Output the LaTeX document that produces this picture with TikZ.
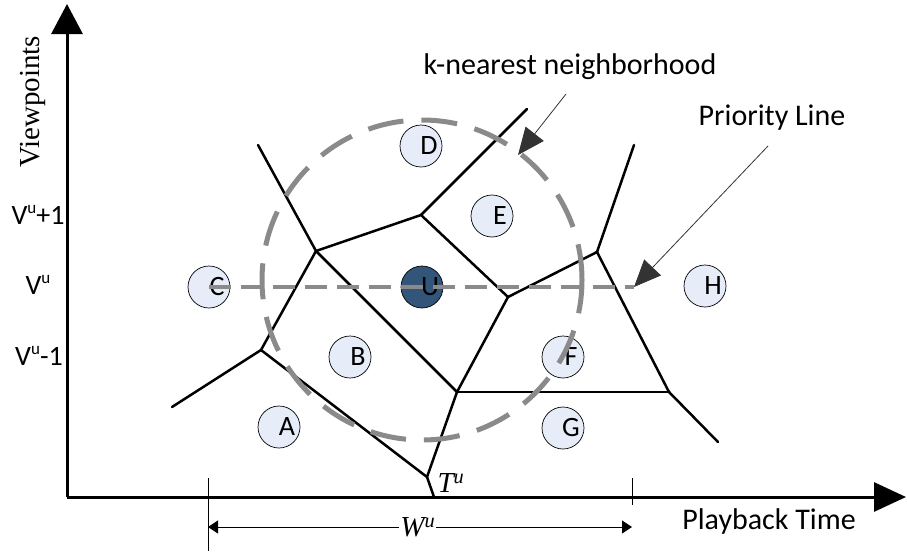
\documentclass[tikz,border=0pt]{standalone}
\usepackage{fontspec}
\setmainfont{Carlito}
\newfontfamily\timesfont{Liberation Serif}
\usetikzlibrary{arrows.meta, positioning}
\definecolor{siteblue}{HTML}{E6EDF8}
\definecolor{udark}{HTML}{34557A}
\definecolor{dashgray}{HTML}{8A8A8A}
\definecolor{arrowgray}{HTML}{333333}
\newcommand{\supu}{\raisebox{0.42em}{\fontsize{17}{17}\selectfont u}}

\begin{document}
\begin{tikzpicture}[x=1pt,y=-1pt,
 site/.style={circle,draw,line width=0.7pt,fill=siteblue,minimum size=42pt,inner sep=0pt,
   font=\fontsize{28}{28}\selectfont},
 cell/.style={line width=2.5pt,line cap=round},
 axis/.style={line width=3pt},
 knn/.style={draw=dashgray,line width=5pt,dash pattern=on 36pt off 18pt},
 prio/.style={draw=dashgray,line width=4pt,dash pattern=on 22pt off 10pt},
 callout/.style={draw=arrowgray,line width=0.8pt,-{Triangle[length=27pt,width=23pt]}},
 big/.style={font=\fontsize{30}{36}\selectfont},
 vlabel/.style={font=\fontsize{28}{32}\selectfont},
 mathy/.style={font=\timesfont\itshape\fontsize{29}{32}\selectfont}]

  \useasboundingbox (0,0) rectangle (907,554);

  % axes
  \coordinate (O) at (67,497);
  \coordinate (ytop) at (67,4);
  \coordinate (xend) at (906,497);
  \draw[axis,-{Triangle[length=30pt,width=31pt]}] (O) -- (ytop);
  \draw[axis,-{Triangle[length=32pt,width=29pt]}] (O) -- (xend);

  \node[rotate=90,font=\timesfont\fontsize{29}{32}\selectfont] (yname) at (33,102) {Viewpoints};
  \node[big] (xname) at (769,521) {Playback Time};
  \node[vlabel] (v1) at (38,215) {V\supu+1};
  \node[vlabel] (v0) at (38,285) {V\supu};
  \node[vlabel] (v2) at (39,356) {V\supu-1};

  % window
  \coordinate (w1) at (208,478);
  \coordinate (w1b) at (208,551);
  \coordinate (w2) at (632,478);
  \coordinate (w2b) at (632,505);
  \draw[line width=1pt] (w1) -- (w1b);
  \draw[line width=1pt] (w2) -- (w2b);
  \coordinate (wl) at (208,527);
  \coordinate (wr) at (632,527);
  \draw[line width=1pt,{Triangle[length=10pt,width=13pt]}-{Triangle[length=10pt,width=13pt]}]
    (wl) -- node[fill=white,inner sep=1pt,mathy,pos=0.495] (wname) {W\textsuperscript{u}} (wr);

  % voronoi cells
  \coordinate (p1) at (316,251);
  \coordinate (p2) at (261,350);
  \coordinate (p3) at (457,392);
  \coordinate (p4) at (421,215);
  \coordinate (p5) at (508,297);
  \coordinate (p6) at (597,252);
  \coordinate (p7) at (669,392);
  \coordinate (tu) at (427,477);
  \coordinate (tx) at (434,497);
  \coordinate (e1) at (258,145);
  \coordinate (e2) at (527,109);
  \coordinate (e3) at (634,145);
  \coordinate (e4) at (718,442);
  \coordinate (e5) at (172,407);

  \foreach \s/\t in {p1/e1, p1/p4, p1/p2, p1/p3, p4/e2, p4/p5, p5/p6, p5/p3,
    p6/e3, p6/p7, p7/e4, p7/p3, p3/tu, p2/e5, p2/tu, tu/tx} {
   \draw[cell] (\s) -- (\t);}

  \node[mathy] (tname) at (451,483) {T\textsuperscript{u}};

  % viewpoints
  \node[site] (D) at (421,146) {\hspace*{16pt}D};
  \node[site] (E) at (492,216) {\hspace*{16pt}E};
  \node[site,fill=udark] (U) at (422,287) {\hspace*{16pt}U};
  \node[site] (C) at (209,287) {\hspace*{16pt}C};
  \node[site] (B) at (350,357) {\hspace*{16pt}B};
  \node[site] (A) at (279,427) {\hspace*{16pt}A};
  \node[site] (H) at (705,286) {\hspace*{16pt}H};
  \node[site] (F) at (563,357) {\hspace*{16pt}F};
  \node[site] (G) at (563,428) {\hspace*{16pt}G};

  % neighborhood and priority line
  \coordinate (kc) at (422,280);
  \draw[knn] (kc) circle[radius=160pt];
  \coordinate (pl) at (634,287);
  \draw[prio] (C.center) -- (pl);

  % callouts
  \node[big] (knnname) at (570,67) {k-nearest neighborhood};
  \node[big] (prioname) at (772,118) {Priority Line};
  \coordinate (knnfrom) at (566,94);
  \coordinate (knntip) at (518,155);
  \coordinate (priofrom) at (768,146);
  \coordinate (priotip) at (634,287);
  \draw[callout] (knnfrom) -- (knntip);
  \draw[callout] (priofrom) -- (priotip);

\end{tikzpicture}
\end{document}
